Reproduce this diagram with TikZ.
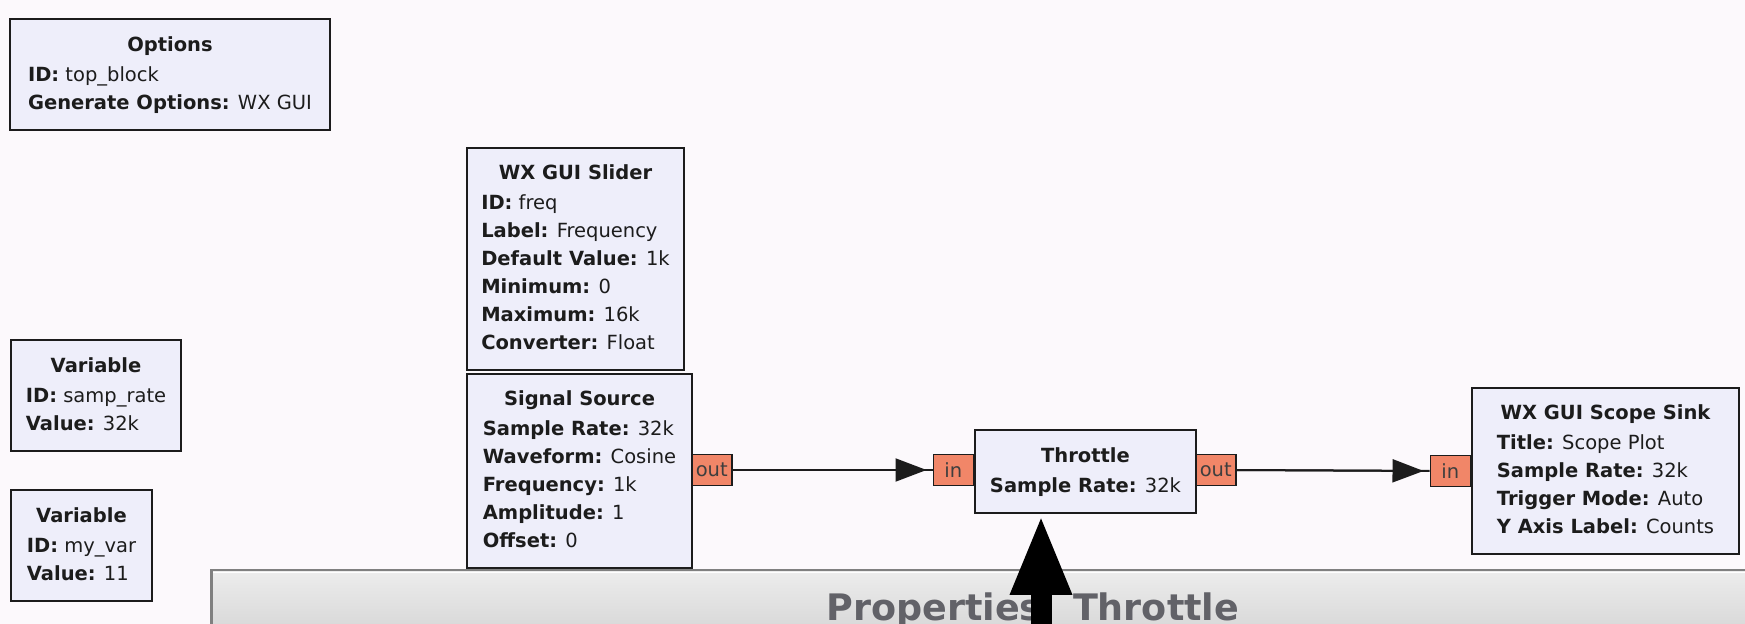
\documentclass[tikz,border=0pt]{standalone}
\usepackage{fontspec}
\setmainfont{DejaVu Sans}
\usetikzlibrary{arrows.meta}

\definecolor{canvas}{RGB}{252,249,252}
\definecolor{blockfill}{RGB}{238,238,250}
\definecolor{portfill}{RGB}{241,134,104}
\definecolor{ink}{RGB}{28,28,28}
\definecolor{paneltop}{RGB}{236,236,236}
\definecolor{panelbot}{RGB}{218,218,218}
\definecolor{panelrim}{RGB}{128,128,128}
\definecolor{titlegray}{RGB}{98,98,104}

\newcommand{\blockfont}{\fontsize{9.75pt}{14pt}\selectfont}
% block body: bold centred title, then left-aligned parameter lines
\newcommand{\blocktext}[2]{\begin{tabular}{@{}l@{}}\multicolumn{1}{@{}c@{}}{\bfseries #1}\\[1pt]#2\end{tabular}}
\newcommand{\prm}[2]{\textbf{#1:} #2}

\tikzset{
  block/.style={draw=ink, line width=1pt, fill=blockfill, inner sep=0pt,
    anchor=north west, font=\blockfont, text=ink},
  port/.style={draw=ink, line width=0.75pt, fill=portfill, inner sep=0pt,
    minimum width=20pt, minimum height=15.5pt, font=\blockfont, text=ink!85},
  wire/.style={draw=ink, line width=1pt},
  wiretip/.style={-{Triangle[length=15.5pt 0, width=11.5pt 0]}, shorten >=3pt},
  bigarrow/.style={draw=black, line width=10.5pt,
    -{Triangle[length=40.5pt 0, width=28pt 0]}},
}

\begin{document}
\begin{tikzpicture}[x=0.5pt, y=-0.5pt]
  \useasboundingbox (0,0) rectangle (1745,624);
  \fill[canvas] (0,0) rectangle (1745,624);

  % flow-graph blocks
  \node[block, minimum width=160pt, minimum height=55.5pt] (opts) at (9,18)
    {\blocktext{Options}{\prm{ID}{top\_block}\\ \prm{Generate Options}{WX GUI}}};

  \node[block, minimum width=108.5pt, minimum height=111pt] (slider) at (466,147)
    {\blocktext{WX GUI Slider}{\prm{ID}{freq}\\ \prm{Label}{Frequency}\\
      \prm{Default Value}{1k}\\ \prm{Minimum}{0}\\ \prm{Maximum}{16k}\\
      \prm{Converter}{Float}}};

  \node[block, minimum width=112.5pt, minimum height=97pt] (src) at (466,373)
    {\blocktext{Signal Source}{\prm{Sample Rate}{32k}\\ \prm{Waveform}{Cosine}\\
      \prm{Frequency}{1k}\\ \prm{Amplitude}{1}\\ \prm{Offset}{0}}};

  \node[block, minimum width=85pt, minimum height=55.5pt] (var1) at (10,339)
    {\blocktext{Variable}{\prm{ID}{samp\_rate}\\ \prm{Value}{32k}}};

  \node[block, minimum width=70.5pt, minimum height=55.5pt] (var2) at (10,489)
    {\blocktext{Variable}{\prm{ID}{my\_var}\\ \prm{Value}{11}}};

  \node[block, minimum width=110.5pt, minimum height=41.5pt] (thr) at (974,429)
    {\blocktext{Throttle}{\prm{Sample Rate}{32k}}};

  \node[block, minimum width=133.5pt, minimum height=83pt] (sink) at (1471,387)
    {\blocktext{WX GUI Scope Sink}{\prm{Title}{Scope Plot}\\ \prm{Sample Rate}{32k}\\
      \prm{Trigger Mode}{Auto}\\ \prm{Y Axis Label}{Counts}}};

  % ports
  \node[port, anchor=west] (srcout) at (691,470) {out};
  \node[port, anchor=east] (thrin) at (974,470) {in};
  \node[port, anchor=west] (throut) at (1195,470) {out};
  \node[port, anchor=east] (sinkin) at (1471,471) {in};

  % connections
  \draw[wire] (srcout.east) -- (thrin.west);
  \draw[wire, wiretip] (srcout.east) -- (thrin.west);
  \draw[wire] (throut.east) -- (sinkin.west);
  \draw[wire, wiretip] (throut.east) -- (sinkin.west);

  % properties panel along the bottom edge
  \begin{scope}
    \clip (0,0) rectangle (1745,624);
    \fill[panelrim] (210,569) rectangle (1745,624);
    \shade[top color=paneltop, bottom color=panelbot] (213,572) rectangle (1745,624);
    \draw[white, line width=0.5pt] (213,573) -- (1745,573);
    \node[anchor=base west, inner sep=0pt, text=titlegray,
      font=\fontsize{18.25pt}{20pt}\selectfont\bfseries] (ptitle) at (826,620)
      {Properties: Throttle};
    \coordinate (ptr) at (1041,624);
    \draw[bigarrow] (ptr) -- (thr.south -| ptr);
  \end{scope}
\end{tikzpicture}
\end{document}
